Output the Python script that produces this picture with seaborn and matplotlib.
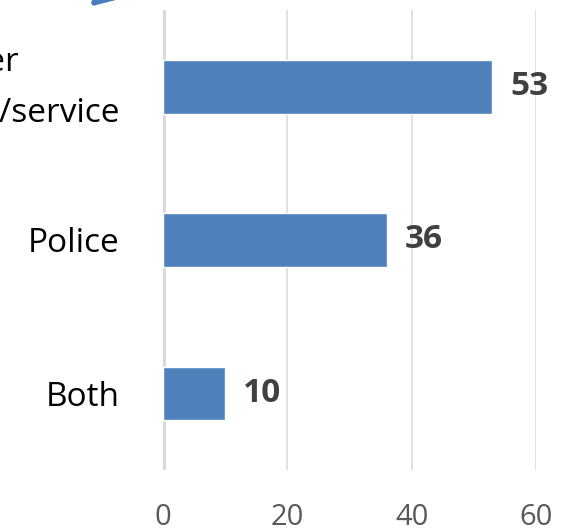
import matplotlib
matplotlib.use("Agg")
import matplotlib.pyplot as plt
import seaborn as sns
import pandas as pd

# chart data
categories = ["Other\nany agency/service", "Police", "Both"]
values = [53, 36, 10]
x_ticks = [0, 20, 40, 60]

bar_color = "#4f81bd"
grid_color = "#d9d9d9"

sns.set_theme(style="white")
plt.rcParams['font.family'] = ['Open Sans', 'DejaVu Sans']

df = pd.DataFrame({"category": categories, "value": values})

fig = plt.figure(figsize=(5.65, 5.31), dpi=100)
ax = fig.add_axes([163 / 565, 61 / 531, 373 / 565, 460 / 531])

sns.barplot(data=df, x="value", y="category", orient="h", color=bar_color,
            width=0.35, saturation=1, ax=ax)

ax.set_xlim(0, 60)
ax.set_ylim(2.5, -0.5)
ax.set_xticks(x_ticks)
ax.set_xticklabels([str(t) for t in x_ticks], fontsize=21, color="#595959")
ax.tick_params(axis="x", pad=24, length=0)
ax.tick_params(axis="y", length=0)

# category labels drawn by hand so the two-line one can sit a bit higher
ax.set_yticks(range(len(categories)))
ax.set_yticklabels([""] * len(categories))
for i, cat in enumerate(categories):
    lift = 12 if "\n" in cat else 0
    ax.annotate(cat, (0, i), xycoords=("axes fraction", "data"),
                xytext=(-31, lift * 0.72), textcoords="offset points",
                ha="right", va="center_baseline", ma="center",
                linespacing=1.75, fontsize=24, color="black",
                annotation_clip=False)
ax.set_xlabel("")
ax.set_ylabel("")

# gridlines and thick zero line
for t in x_ticks[1:]:
    ax.axvline(t, color=grid_color, lw=1.1, zorder=0)
ax.axvline(0, color=grid_color, lw=3.6, zorder=0)
for s in ax.spines.values():
    s.set_visible(False)

# value labels
for i, v in enumerate(values):
    ax.annotate(str(v), (v, i), xytext=(13, 0), textcoords="offset points",
                va="center", ha="left", fontsize=24, fontweight="bold",
                color="#404040")

# tip of an arrow coming in from above the chart
ax.annotate("", xy=(0.1575, 0.987), xycoords="figure fraction",
            xytext=(0.30, 1.11), textcoords="figure fraction",
            annotation_clip=False,
            arrowprops=dict(arrowstyle="-|>,head_length=1.2,head_width=0.55",
                            lw=4, color="#4a7ebb", shrinkA=0, shrinkB=0,
                            mutation_scale=20))

fig.savefig("out.png", dpi=100)
